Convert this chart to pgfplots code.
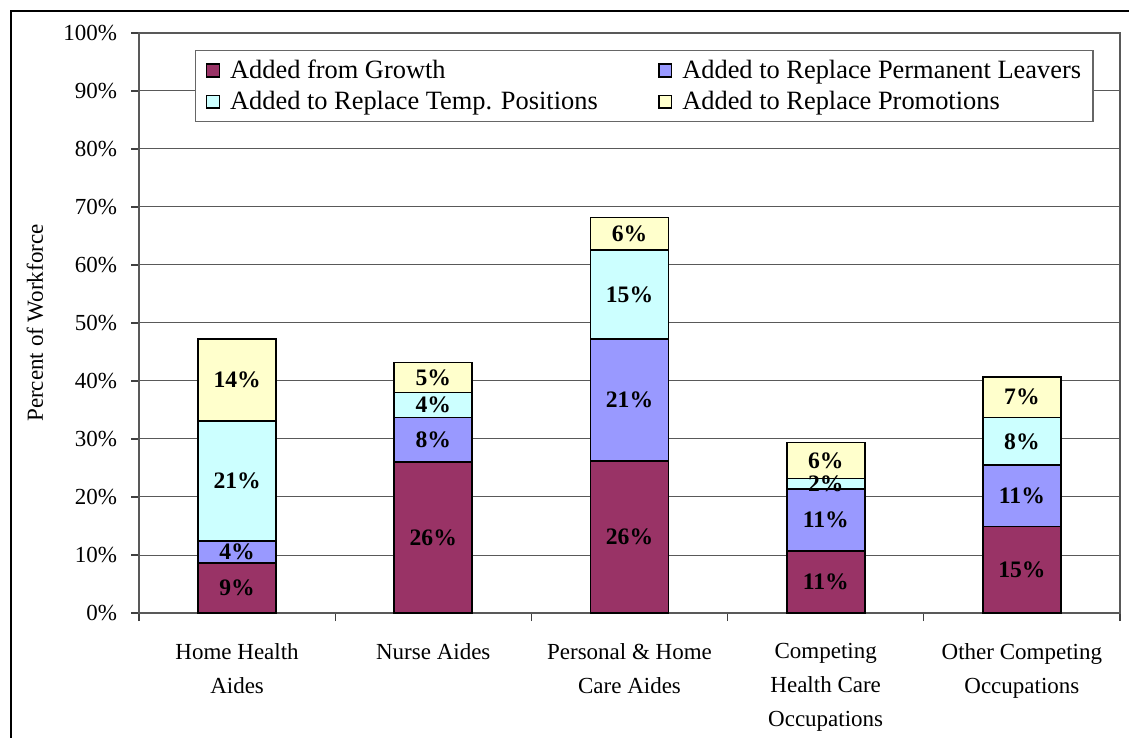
\documentclass[border=0pt]{standalone}
\usepackage{pgfplots}
\pgfplotsset{compat=1.18}
\usepackage{pgfplotstable}
\usepackage{fontspec}
\setmainfont{Liberation Serif}
\definecolor{cGrowth}{HTML}{993366}
\definecolor{cPerm}{HTML}{9999FF}
\definecolor{cTemp}{HTML}{CCFFFF}
\definecolor{cProm}{HTML}{FFFFCC}
\pgfplotstableread{
x growth perm temp prom
0 8.6 3.8 20.7 14.1
1 26.1 7.6 4.3 5.2
2 26.2 21.0 15.4 5.6
3 10.7 10.7 1.8 6.2
4 14.9 10.6 8.2 7.0
}\datatable
\newcommand{\chartfont}{\fontsize{11.5}{17}\selectfont}
\pgfplotsset{
  segbar/.style={fill=#1, draw=black, line width=0.9pt,
    legend image code/.code={\path (0pt,0pt); \draw[fill=#1, draw=black, line width=0.8pt] (4pt,-3.2pt) rectangle (10.4pt,3.2pt);}},
}
\begin{document}
\begin{tikzpicture}
\useasboundingbox (-69.5pt,-62.5pt) rectangle (495pt,306.5pt);
\draw[black, line width=0.8pt] (-64pt,-70pt) -- (-64pt,301pt) -- (500pt,301pt);
\begin{axis}[
  at={(0pt,0pt)}, anchor=south west,
  scale only axis, width=490.5pt, height=290pt,
  ybar stacked, bar width=39pt,
  xmin=-0.5, xmax=4.5, ymin=0, ymax=100,
  xtick={-0.5,0.5,1.5,2.5,3.5,4.5},
  x tick label as interval,
  xticklabels={{Home Health\\Aides},{Nurse Aides},{Personal \& Home\\Care Aides},{Competing\\Health Care\\Occupations},{Other Competing\\Occupations}},
  xticklabel style={align=center, font=\chartfont, yshift=-7.5pt},
  ytick={0,10,...,100},
  yticklabel={\pgfmathprintnumber{\tick}\%},
  yticklabel style={font=\chartfont, xshift=-3.5pt},
  /pgf/number format/assume math mode=true,
  tick pos=left, tick align=outside, major tick length=4pt,
  tick style={black!75, line width=0.6pt},
  axis line style={black!65, line width=0.6pt},
  ymajorgrids, major grid style={black!65, line width=0.5pt},
  every axis y label/.style={at={(rel axis cs:0,0.5)}, xshift=-52pt, rotate=90, anchor=center},
  ylabel={Percent of Workforce},
  ylabel style={font=\chartfont},
  point meta=explicit,
  nodes near coords={\pgfmathprintnumber[fixed,precision=0]{\pgfplotspointmeta}\%},
  every node near coord/.append style={anchor=center, font=\bfseries\fontsize{11.8}{13}\selectfont},
  legend columns=2,
  legend cell align=left,
  legend style={at={(axis description cs:0,1)}, anchor=north west, xshift=28pt, yshift=-8.5pt,
    draw=black!60, line width=0.6pt, fill=white, font=\fontsize{13.2}{14}\selectfont,
    inner xsep=1pt, inner ysep=3pt, row sep=2pt,
    nodes={inner ysep=1.5pt, inner xsep=5pt},
    /tikz/every even column/.append style={column sep=21pt}},
]
\addplot[segbar=cGrowth] table[x=x, y=growth, meta=growth] {\datatable};
\addplot[segbar=cPerm] table[x=x, y=perm, meta=perm] {\datatable};
\addplot[segbar=cTemp] table[x=x, y=temp, meta=temp] {\datatable};
\addplot[segbar=cProm] table[x=x, y=prom, meta=prom] {\datatable};
\legend{Added from Growth, Added to Replace Permanent Leavers, Added to Replace Temp. Positions, Added to Replace Promotions}
\end{axis}
\end{tikzpicture}
\end{document}
